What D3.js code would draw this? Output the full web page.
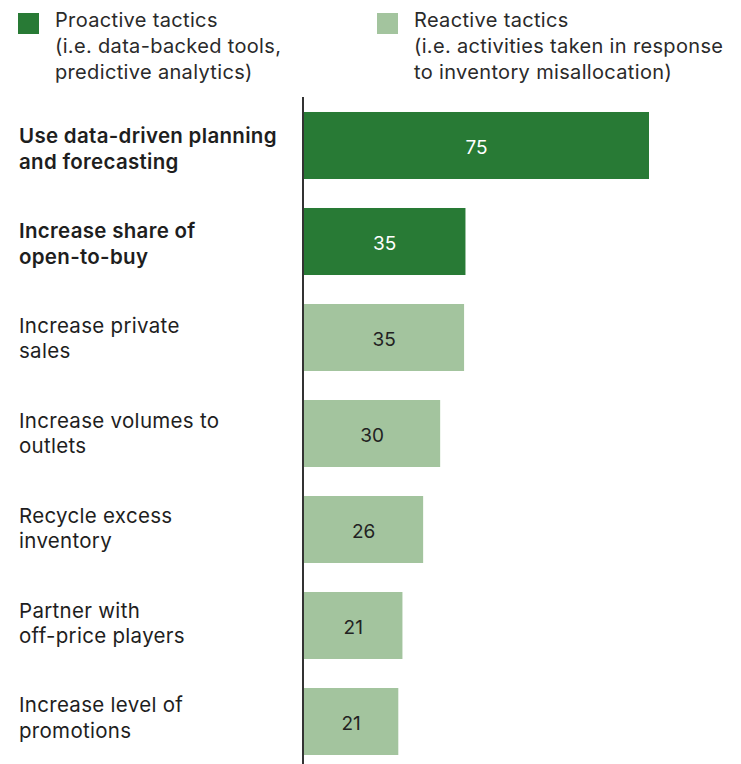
<!DOCTYPE html>
<html>
<head>
<meta charset="utf-8">
<script src="https://cdn.jsdelivr.net/npm/d3@7"></script>
<style>
  html, body { margin: 0; padding: 0; background: #fff; }
  svg { display: block; font-family: Inter, "Noto Sans", sans-serif; }
</style>
</head>
<body>
<svg id="chart" width="741" height="764"></svg>
<script>
// ---- data ----
const categories = [
  ["Use data-driven planning", "and forecasting"],
  ["Increase share of", "open-to-buy"],
  ["Increase private", "sales"],
  ["Increase volumes to", "outlets"],
  ["Recycle excess", "inventory"],
  ["Partner with", "off-price players"],
  ["Increase level of", "promotions"]
];
const values = [75, 35.1, 34.8, 29.6, 25.9, 21.4, 20.5];
const types = ["proactive", "proactive", "reactive", "reactive", "reactive", "reactive", "reactive"];
const legendKeys = ["proactive", "reactive"];
const legendLabels = [
  ["Proactive tactics", "(i.e. data-backed tools,", "predictive analytics)"],
  ["Reactive tactics", "(i.e. activities taken in response", "to inventory misallocation)"]
];

// ---- chart ----
const svg = d3.select("#chart");
const color = d3.scaleOrdinal().domain(legendKeys).range(["#287a35", "#a3c49e"]);
const textColor = d3.scaleOrdinal().domain(legendKeys).range(["#ffffff", "#222222"]);
const ids = categories.map((d, i) => i);

const x = d3.scaleLinear().domain([0, 75]).range([304, 649]);
const y = d3.scaleBand().domain(ids).range([97.5, 769.5]).paddingInner(0.302).paddingOuter(0.151);
const yLabel = d3.scalePoint().domain(ids).range([143.2, 712.4]);

// legend
const leg = svg.append("g");
const legX = [18, 377];
legendKeys.forEach((k, i) => {
  leg.append("rect").attr("x", legX[i]).attr("y", 13).attr("width", 21).attr("height", 21).attr("fill", color(k));
  const t = leg.append("text").attr("x", legX[i] + 37).attr("y", 27)
    .attr("font-size", 20).attr("letter-spacing", 0.34).attr("fill", "#2a2a2a");
  legendLabels[i].forEach((line, j) => {
    t.append("tspan").attr("x", legX[i] + 37).attr("dy", j === 0 ? 0 : 26).text(line);
  });
});

// bars
svg.append("g").selectAll("rect").data(ids).join("rect")
  .attr("x", x(0))
  .attr("y", i => y(i))
  .attr("width", i => x(values[i]) - x(0))
  .attr("height", y.bandwidth())
  .attr("fill", i => color(types[i]));

// value labels
svg.append("g").selectAll("text").data(ids).join("text")
  .attr("x", i => (x(0) + x(values[i])) / 2)
  .attr("y", i => y(i) + y.bandwidth() / 2 + 8.5)
  .attr("text-anchor", "middle")
  .attr("font-size", 19)
  .attr("fill", i => textColor(types[i]))
  .text(i => Math.round(values[i]));

// category labels
const cat = svg.append("g").selectAll("text").data(ids).join("text")
  .attr("x", 19)
  .attr("y", i => yLabel(i))
  .attr("font-size", 20.5)
  .attr("letter-spacing", 0.3)
  .attr("font-weight", i => types[i] === "proactive" ? 600 : 400)
  .attr("fill", "#1e1e1e");
cat.each(function(i) {
  const t = d3.select(this);
  categories[i].forEach((line, j) => {
    t.append("tspan").attr("x", 19).attr("dy", j === 0 ? 0 : 25.5).text(line);
  });
});

// axis line
svg.append("line").attr("x1", 303).attr("x2", 303).attr("y1", 97).attr("y2", 764)
  .attr("stroke", "#333").attr("stroke-width", 2);
</script>
</body>
</html>
